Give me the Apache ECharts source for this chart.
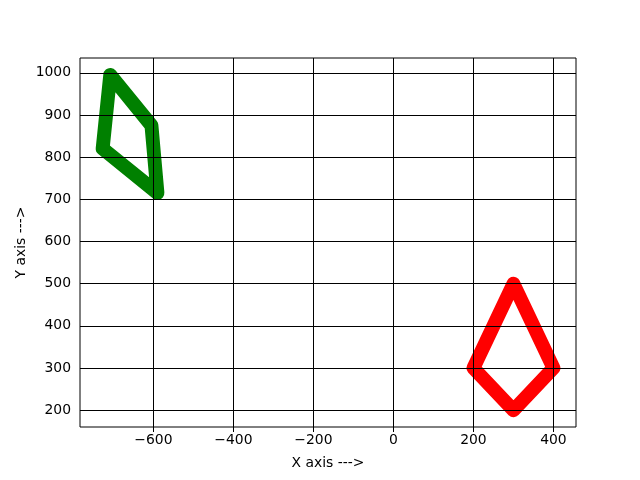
<!DOCTYPE html>
<html><head><meta charset="utf-8">
<script src="https://cdn.jsdelivr.net/npm/echarts@6/dist/echarts.min.js"></script>
<style>html,body{margin:0;padding:0;background:#fff}#c{width:640px;height:480px}</style>
</head><body><div id="c"></div>
<script>
const greenX = [-708, -605, -590, -727, -708];
const greenY = [995, 875, 715, 820, 995];
const redX = [200, 300, 400, 300, 200];
const redY = [300, 500, 300, 200, 300];
const xTicks = [-600, -400, -200, 0, 200, 400];
const yTicks = [200, 300, 400, 500, 600, 700, 800, 900, 1000];

const xMin = -783.6, xMax = 456.4, yMin = 160.2, yMax = 1035;
const font = 'DejaVu Sans';
const pairs = (xs, ys) => xs.map((x, i) => [x, ys[i]]);
const lineW = 13.9;

const chart = echarts.init(document.getElementById('c'), null, {renderer: 'canvas'});
const axisCommon = {
  z: 5,
  axisLine: {show: false},
  axisTick: {show: true, inside: false, length: 5, lineStyle: {color: '#000', width: 1}},
  axisLabel: {color: '#000', fontFamily: font, fontSize: 13.9, margin: 6},
  splitLine: {show: true, lineStyle: {color: '#000', width: 1}},
  nameTextStyle: {color: '#000', fontFamily: font, fontSize: 13.9}
};
chart.setOption({
  animation: false,
  backgroundColor: '#fff',
  grid: {left: 80, right: 64, top: 58, bottom: 53, show: true, borderColor: '#000', borderWidth: 1, backgroundColor: 'transparent', z: 6},
  xAxis: Object.assign({}, axisCommon, {
    type: 'value', min: xMin, max: xMax,
    name: 'X axis --->', nameLocation: 'middle', nameGap: 29,
    axisTick: Object.assign({}, axisCommon.axisTick, {customValues: xTicks}),
    axisLabel: Object.assign({}, axisCommon.axisLabel, {customValues: xTicks, formatter: v => (v < 0 ? '\u2212' + Math.abs(v) : String(v))})
  }),
  yAxis: Object.assign({}, axisCommon, {
    type: 'value', min: yMin, max: yMax,
    name: 'Y axis --->', nameLocation: 'middle', nameGap: 52, nameRotate: 90, nameMoveOverlap: false,
    axisTick: Object.assign({}, axisCommon.axisTick, {customValues: yTicks}),
    axisLabel: Object.assign({}, axisCommon.axisLabel, {customValues: yTicks, margin: 9, formatter: v => String(v)})
  }),
  series: [
    {type: 'line', z: 1, data: pairs(greenX, greenY), showSymbol: false, symbol: 'none',
     lineStyle: {color: '#008000', width: lineW, cap: 'round', join: 'round'}},
    {type: 'line', z: 1, data: pairs(redX, redY), showSymbol: false, symbol: 'none',
     lineStyle: {color: '#ff0000', width: lineW, cap: 'round', join: 'round'}}
  ]
});
</script>
</body></html>
